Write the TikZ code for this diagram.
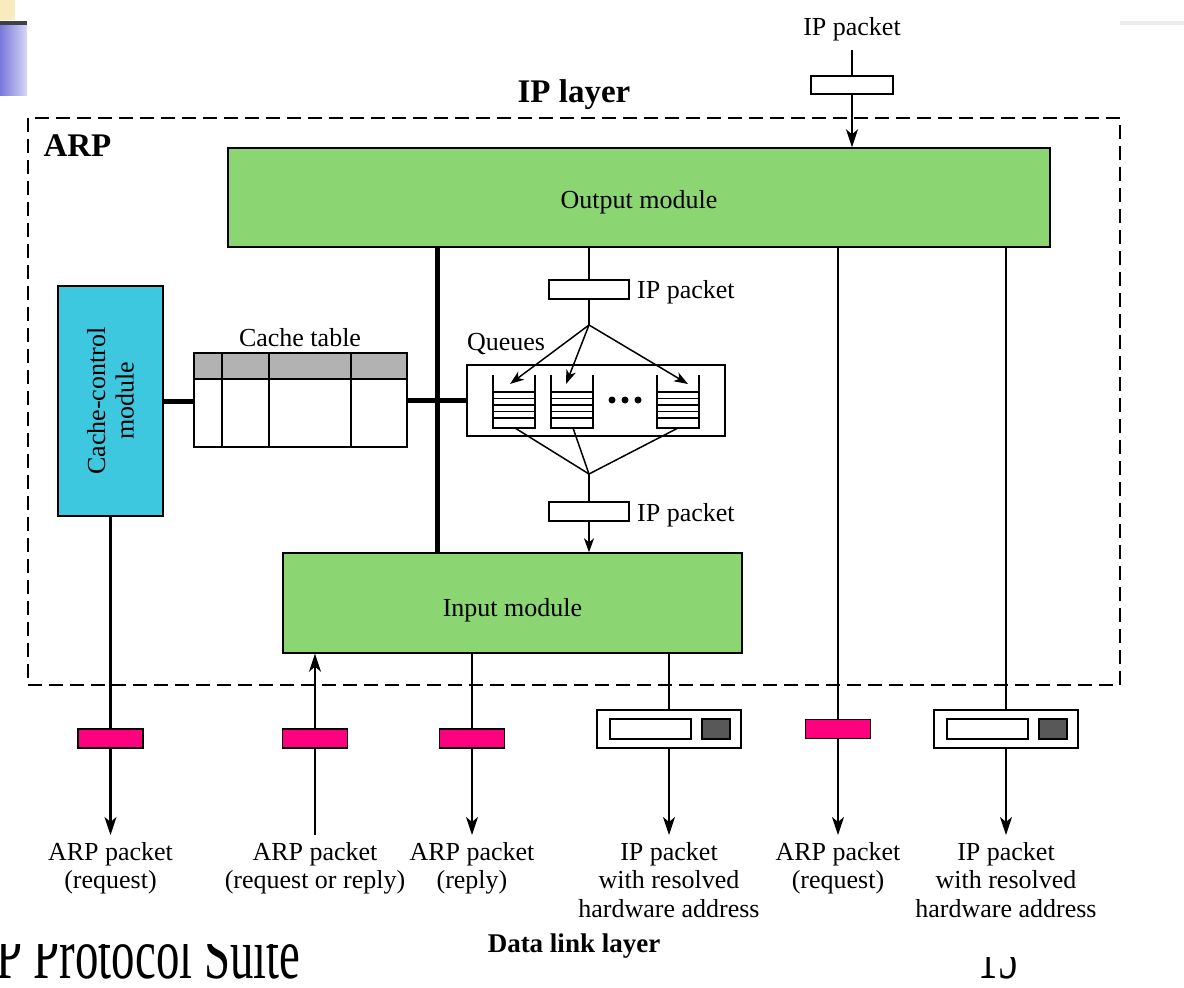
\documentclass[tikz,border=0pt]{standalone}
\usepackage{fontspec}
\setmainfont{Liberation Serif}
\usetikzlibrary{arrows.meta}
\definecolor{modgreen}{RGB}{139,214,115}
\definecolor{ctlcyan}{RGB}{62,200,224}
\definecolor{arppink}{RGB}{255,0,127}
\definecolor{hdrgray}{RGB}{178,178,178}
\definecolor{addrgray}{RGB}{88,88,88}
\definecolor{barblue}{RGB}{120,120,220}
\definecolor{barlight}{RGB}{215,215,245}
\definecolor{baryellow}{RGB}{250,235,190}

\begin{document}
\begin{tikzpicture}[x=1pt,y=-1pt,
	font=\fontsize{26}{28.5}\selectfont,
	module/.style={draw,line width=1.4pt,fill=modgreen},
	frame/.style={draw,line width=1.4pt,inner sep=0pt},
	pkt/.style={frame,fill=white,minimum width=80pt,minimum height=19pt},
	arppkt/.style={pkt,fill=arppink,minimum width=65pt},
	hwbox/.style={frame,fill=white,minimum width=144pt,minimum height=38pt},
	lbl/.style={align=center,anchor=north,inner sep=0pt},
	conn/.style={line width=2.2pt},
	arr/.style={conn,-{Stealth[length=18pt,width=12pt,inset=5pt]}},
	qarr/.style={line width=1.5pt,-{Stealth[length=14pt,width=10pt,inset=4pt]}},
	bus/.style={line width=5pt},
	title/.style={font=\fontsize{33}{35}\selectfont\bfseries},
	slide/.style={inner sep=0pt,font=\fontsize{72}{76}\selectfont}]
		\useasboundingbox (0,0) rectangle (1184,988);
		\clip (0,0) rectangle (1184,988);
		\fill[baryellow] (0,0) rectangle (15,20);
		\fill[black!75] (0,21) rectangle (27,25);
		\shade[left color=barblue,right color=barlight] (0,25) rectangle (27,95);
		\fill[black!8] (1120,21) rectangle (1184,25);
		\begin{scope}
			\clip (0,944) rectangle (420,988);
			\node[slide,anchor=base west,xscale=0.65] (suite) at (-4,978) {P Protocol Suite};
		\end{scope}
		\begin{scope}
			\clip (940,957) rectangle (1060,988);
			\node[slide,anchor=base,xscale=0.6,font=\fontsize{64}{68}\selectfont] (pageno) at (998,978) {15};
		\end{scope}
		\draw[line width=1.5pt,dash pattern=on 14pt off 7pt] (28,118) rectangle (1120,685);
		\node[title] (iplayer) at (574,95) {IP layer};
		\node[title,anchor=west] (arplbl) at (40,146) {ARP};
		\node[module,minimum width=822pt,minimum height=99pt] (outmod) at (639,197.5) {};
		\node (outmodlbl) at ([yshift=-5pt]outmod.center) {Output module};
		\node[module,minimum width=459pt,minimum height=100pt] (inmod) at (512.5,603) {};
		\node (inmodlbl) at ([yshift=-7pt]inmod.center) {Input module};
		\node[frame,fill=ctlcyan,minimum width=105pt,minimum height=230pt] (cachectl) at (110.5,401) {};
		\node[rotate=90,align=center] (cachectllbl) at (cachectl) {Cache-control\\module};
		\node[frame,fill=white,minimum width=213pt,minimum height=94pt] (table) at (300.5,400) {};
		\draw[line width=1.4pt,fill=hdrgray] (194,353) rectangle (407,379);
		\foreach \x in {222,269,351}
			\draw[line width=1.4pt] (\x,353) -- (\x,447);
		\node (tablelbl) at (300,338) {Cache table};
		\node[frame,minimum width=258pt,minimum height=71pt] (qbox) at (596,400.5) {};
		\node (qlbl) at (506,344) {Queues};
		\foreach \x in {493,551,657}{
			\draw[line width=1.4pt] (\x,375) -- (\x,428) -- (\x+42,428) -- (\x+42,375);
			\foreach \y in {392,398.5,405,411.5,418}
				\draw[line width=1.2pt] (\x,\y) -- (\x+42,\y);
		}
		\foreach \x in {612,625,638}
			\fill (\x,400) circle (3.5pt);
		\coordinate (bus) at (437,401);
		\draw[bus] (outmod.south -| bus) -- (inmod.north -| bus);
		\draw[bus] (cachectl.east) -- (cachectl.east -| table.west);
		\draw[bus] (table.east) -- (table.east -| qbox.west);
		\node[pkt] (uppkt) at (589,289.5) {};
		\node[anchor=west,xshift=4pt] (uplbl) at ([yshift=-3pt]uppkt.east) {IP packet};
		\node[pkt] (lowpkt) at (589,511.5) {};
		\node[anchor=west,xshift=4pt] (lowlbl) at ([yshift=-4pt]lowpkt.east) {IP packet};
		\coordinate (fork) at (589,325);
		\coordinate (join) at (589,474);
		\coordinate (qa) at (510,384);
		\coordinate (qb) at (566,384);
		\coordinate (qc) at (688,384);
		\coordinate (qa-bot) at (515,428);
		\coordinate (qb-bot) at (573,428);
		\coordinate (qc-bot) at (678,428);
		\draw[line width=1.5pt] (outmod.south -| uppkt) -- (uppkt.north);
		\draw[line width=1.5pt] (uppkt.south) -- (fork);
		\foreach \q in {qa,qb,qc}{
			\draw[qarr] (fork) -- (\q);
			\draw[line width=1.5pt] (\q-bot) -- (join);
		}
		\draw[line width=1.5pt] (join) -- (lowpkt.north);
		\draw[qarr] (lowpkt.south) -- (inmod.north -| lowpkt);
		\node (toplbl) at (852,29) {IP packet};
		\node[pkt,minimum width=82pt,minimum height=18pt] (toppkt) at (852,85) {};
		\draw[conn] (852,50) -- (toppkt.north);
		\draw[arr] (toppkt.south) -- (outmod.north -| toppkt);
		\node[arppkt] (pk1) at (110.5,738.5) {};
		\node[arppkt] (pk2) at (315,738.5) {};
		\node[arppkt] (pk3) at (472,738.5) {};
		\node[arppkt] (pk5) at (838,729) {};
		\node[hwbox] (hw1) at (669,729) {};
		\node[hwbox] (hw2) at (1006,729) {};
		\node[frame,line width=1.2pt,fill=white,minimum width=81pt,minimum height=20pt] (hw1a) at (650.5,729) {};
		\node[frame,line width=1.2pt,fill=addrgray,minimum width=28pt,minimum height=20pt] (hw1b) at (716,729) {};
		\node[frame,line width=1.2pt,fill=white,minimum width=81pt,minimum height=20pt] (hw2a) at (987.5,729) {};
		\node[frame,line width=1.2pt,fill=addrgray,minimum width=28pt,minimum height=20pt] (hw2b) at (1053,729) {};
		\node[lbl] (l1) at (110.5,842) {ARP packet\\(request)};
		\node[lbl] (l2) at (315,842) {ARP packet\\(request or reply)};
		\node[lbl] (l3) at (472,842) {ARP packet\\(reply)};
		\node[lbl] (l4) at (669,842) {IP packet\\with resolved\\hardware address};
		\node[lbl] (l5) at (838,842) {ARP packet\\(request)};
		\node[lbl] (l6) at (1006,842) {IP packet\\with resolved\\hardware address};
		\draw[conn] (cachectl.south) -- (pk1.north);
		\draw[arr] (pk1.south) -- ([yshift=7pt]l1.north);
		\draw[conn] ([yshift=7pt]l2.north) -- (pk2.south);
		\draw[arr] (pk2.north) -- (inmod.south -| pk2);
		\draw[conn] (inmod.south -| pk3) -- (pk3.north);
		\draw[arr] (pk3.south) -- ([yshift=7pt]l3.north);
		\draw[conn] (inmod.south -| hw1) -- (hw1.north);
		\draw[arr] (hw1.south) -- ([yshift=7pt]l4.north);
		\draw[conn] (outmod.south -| pk5) -- (pk5.north);
		\draw[arr] (pk5.south) -- ([yshift=7pt]l5.north);
		\draw[conn] (outmod.south -| hw2) -- (hw2.north);
		\draw[arr] (hw2.south) -- ([yshift=7pt]l6.north);
		\node[font=\fontsize{27}{29}\selectfont\bfseries] (dll) at (574,946) {Data link layer};
	\end{tikzpicture}
\end{document}
